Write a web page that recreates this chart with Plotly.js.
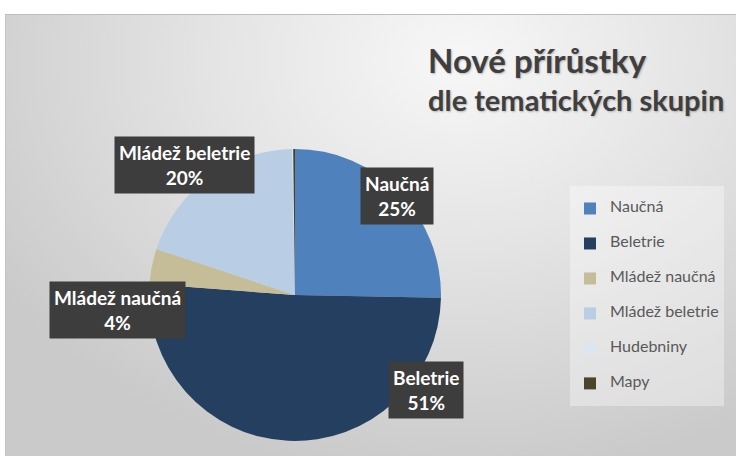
<!DOCTYPE html>
<html>
<head>
<meta charset="utf-8">
<script src="https://cdn.plot.ly/plotly-3.0.1.min.js"></script>
<style>
  html, body { margin: 0; padding: 0; background: #ffffff; }
  #wrap { position: relative; width: 736px; height: 458px; overflow: hidden; }
  #bg {
    position: absolute; left: 5px; top: 14px; width: 731px; height: 442px;
    border-top: 1px solid #bdbdbd; border-left: 1px solid #c4c4c4; box-sizing: border-box;
    background: radial-gradient(ellipse 75% 95% at 62% 10%, #f7f7f7 0%, #e4e4e4 45%, #cacaca 100%);
  }
  #chart { position: absolute; left: 0; top: 0; width: 736px; height: 458px; }
</style>
</head>
<body>
<div id="wrap">
  <div id="bg"></div>
  <div id="chart"></div>
</div>
<script>
// ---- data ----
const categories = ['Naučná', 'Beletrie', 'Mládež naučná', 'Mládež beletrie', 'Hudebniny', 'Mapy'];
const shares = [25.3, 50.9, 3.9, 19.6, 0.1, 0.2];
const sliceColors = ['#4F81BD', '#243F60', '#C4BD97', '#B9CDE5', '#DCE6F2', '#4A452A'];
const labelledCategories = ['Naučná', 'Beletrie', 'Mládež naučná', 'Mládež beletrie'];

// ---- layout config (label box centres in page pixels) ----
const W = 736, H = 458;
const labelBoxCenters = {
  'Naučná': [397, 196],
  'Beletrie': [426, 390],
  'Mládež naučná': [117, 310],
  'Mládež beletrie': [185, 165]
};
const pieCenter = [295, 295], pieRadius = 146;

const total = shares.reduce((a, b) => a + b, 0);
const NBSP = '\u00a0';
const legendLabels = categories.map(c => NBSP + '<br><span style="font-size:16px">' + c + '</span><br>' + NBSP);

const trace = {
  type: 'pie',
  labels: legendLabels,
  values: shares,
  customdata: categories,
  marker: { colors: sliceColors, line: { width: 0 } },
  sort: false,
  direction: 'clockwise',
  rotation: 0,
  textinfo: 'none',
  hovertemplate: '%{customdata}: %{percent}<extra></extra>',
  domain: {
    x: [(pieCenter[0] - pieRadius) / W, (pieCenter[0] + pieRadius) / W],
    y: [(H - pieCenter[1] - pieRadius) / H, (H - pieCenter[1] + pieRadius) / H]
  }
};

const annotations = labelledCategories.map(c => {
  const i = categories.indexOf(c);
  const pct = Math.round(shares[i] / total * 100);
  const pos = labelBoxCenters[c];
  return {
    xref: 'paper', yref: 'paper',
    x: pos[0] / W, y: 1 - pos[1] / H,
    xanchor: 'center', yanchor: 'middle',
    text: c + '<br>' + pct + '%',
    showarrow: false,
    align: 'center',
    font: { family: 'Lato, sans-serif', size: 19, color: '#ffffff', weight: 'bold' },
    bgcolor: '#3d3d3d',
    borderpad: 4
  };
});

const layout = {
  width: W, height: H,
  margin: { l: 0, r: 0, t: 0, b: 0 },
  paper_bgcolor: 'rgba(0,0,0,0)',
  plot_bgcolor: 'rgba(0,0,0,0)',
  title: {
    text: '<span style="font-size:33px">Nové přírůstky</span><br>dle tematických skupin',
    x: 428 / W, xanchor: 'left',
    y: 1 - 73 / H, yanchor: 'top',
    font: { family: 'Lato, sans-serif', size: 29, color: '#3f3f3f', weight: 'bold',
            shadow: '1px 1px 2px rgba(0,0,0,0.25)' }
  },
  showlegend: true,
  legend: {
    x: 570 / W, xanchor: 'left',
    y: 1 - 186 / H, yanchor: 'top',
    bgcolor: 'rgba(255,255,255,0.35)',
    borderwidth: 0,
    font: { family: 'Lato, sans-serif', size: 8.2, color: '#595959' },
    traceorder: 'normal'
  },
  annotations: annotations
};

Plotly.newPlot('chart', [trace], layout, { displayModeBar: false, staticPlot: false });
</script>
</body>
</html>
